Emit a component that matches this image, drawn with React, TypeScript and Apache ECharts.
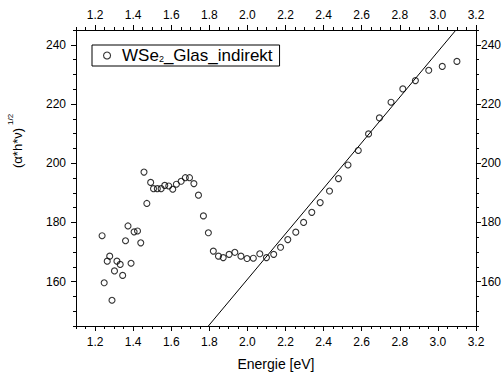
import { useEffect, useRef } from "react";
import * as echarts from "echarts";

// Photon energy (eV) and (α·h·ν)^(1/2) values of the WSe2 glass sample
const energy = [
  1.237, 1.248, 1.264, 1.277, 1.289, 1.302, 1.315, 1.332, 1.345, 1.36,
  1.373, 1.389, 1.405, 1.423, 1.44, 1.457, 1.472, 1.492, 1.507, 1.527,
  1.547, 1.566, 1.587, 1.608, 1.627, 1.652, 1.674, 1.696, 1.719, 1.743,
  1.769, 1.795, 1.821, 1.848, 1.873, 1.904, 1.934, 1.966, 1.998, 2.031,
  2.065, 2.1, 2.138, 2.174, 2.212, 2.254, 2.295, 2.338, 2.382, 2.431,
  2.478, 2.528, 2.582, 2.636, 2.693, 2.754, 2.816, 2.882, 2.952, 3.023,
  3.1,
];
const signal = [
  175.5, 159.6, 166.9, 168.6, 153.7, 163.6, 166.9, 165.8, 162.1, 173.8,
  178.8, 166.2, 176.8, 177.1, 173.1, 197.0, 186.4, 193.5, 191.4, 191.4,
  191.4, 192.5, 192.3, 191.2, 192.9, 193.9, 195.1, 195.1, 193.1, 189.2,
  182.2, 176.5, 170.3, 168.6, 168.1, 169.2, 169.9, 168.6, 167.8, 167.9,
  169.4, 168.1, 169.2, 171.6, 174.2, 176.7, 180.0, 183.4, 186.7, 190.6,
  194.8, 199.4, 204.3, 209.9, 215.3, 220.6, 225.1, 227.9, 231.4, 232.7,
  234.4,
];

// Linear fit of the absorption edge, given by its two ends inside the frame
const fitLine = [
  [1.795, 145],
  [3.095, 245],
];

const xMajorTicks = [1.2, 1.4, 1.6, 1.8, 2.0, 2.2, 2.4, 2.6, 2.8, 3.0, 3.2];
const yMajorTicks = [160, 180, 200, 220, 240];

const X_MIN = 1.1;
const X_MAX = 3.2;
const Y_MIN = 145;
const Y_MAX = 245;

const FONT = "'Liberation Sans', Arial, Helvetica, sans-serif";
const BLACK = "#000";

function minorAxis(position: string, min: number, max: number, interval: number) {
  return {
    type: "value",
    position,
    min,
    max,
    interval,
    axisLine: { show: true, onZero: false, lineStyle: { color: BLACK, width: 1 } },
    axisTick: { show: true, inside: false, length: 3, lineStyle: { color: BLACK, width: 1 } },
    axisLabel: { show: false },
    splitLine: { show: false },
  };
}

function majorAxis(
  position: string,
  min: number,
  max: number,
  ticks: number[],
  digits: number,
  margin: number
) {
  return {
    type: "value",
    position,
    min,
    max,
    axisLine: { show: false, onZero: false },
    axisTick: {
      show: true,
      inside: false,
      length: 5,
      customValues: ticks,
      lineStyle: { color: BLACK, width: 1 },
    },
    axisLabel: {
      show: true,
      customValues: ticks,
      margin,
      color: BLACK,
      fontSize: 12,
      fontFamily: FONT,
      formatter: (v: number) => v.toFixed(digits),
    },
    splitLine: { show: false },
  };
}

export default function App() {
  const ref = useRef<HTMLDivElement>(null);

  useEffect(() => {
    if (!ref.current) return;
    const chart = echarts.init(ref.current, undefined, { renderer: "svg" });

    const bottomMajor: any = majorAxis("bottom", X_MIN, X_MAX, xMajorTicks, 1, 10);
    bottomMajor.name = "Energie [eV]";
    bottomMajor.nameLocation = "middle";
    bottomMajor.nameGap = 31;
    bottomMajor.nameTextStyle = { color: BLACK, fontSize: 14, fontFamily: FONT };

    chart.setOption({
      animation: false,
      backgroundColor: "#fff",
      grid: { left: 76, right: 25, top: 30, bottom: 52, containLabel: false },
      xAxis: [
        minorAxis("bottom", X_MIN, X_MAX, 0.05),
        bottomMajor,
        minorAxis("top", X_MIN, X_MAX, 0.05),
        majorAxis("top", X_MIN, X_MAX, xMajorTicks, 1, 9),
      ],
      yAxis: [
        minorAxis("left", Y_MIN, Y_MAX, 5),
        majorAxis("left", Y_MIN, Y_MAX, yMajorTicks, 0, 10),
        minorAxis("right", Y_MIN, Y_MAX, 5),
        majorAxis("right", Y_MIN, Y_MAX, yMajorTicks, 0, 5),
      ],
      legend: {
        show: true,
        left: 92,
        top: 45,
        orient: "horizontal",
        data: ["WSe2_Glas_indirekt"],
        itemWidth: 20,
        itemHeight: 7,
        padding: [2, 7, 2, 11],
        borderColor: BLACK,
        borderWidth: 1,
        borderRadius: 0,
        backgroundColor: "#fff",
        itemStyle: { color: "rgba(0,0,0,0)", borderColor: BLACK, borderWidth: 1.1 },
        formatter: () => "{n|WSe}{s|2}{n|_Glas_indirekt}",
        textStyle: {
          color: BLACK,
          fontFamily: FONT,
          fontSize: 17,
          rich: {
            n: { fontSize: 17, fontFamily: FONT, color: BLACK, lineHeight: 16 },
            s: {
              fontSize: 9,
              fontFamily: FONT,
              color: BLACK,
              lineHeight: 16,
              verticalAlign: "bottom",
              padding: [7, 0, 0, 0],
            },
          },
        },
      },
      graphic: [
        {
          type: "group",
          x: 17,
          y: 168,
          rotation: Math.PI / 2,
          children: [
            {
              type: "text",
              x: 0,
              y: 0,
              style: {
                text: "(α*h*ν)",
                fontSize: 13,
                fontFamily: FONT,
                fill: BLACK,
                textAlign: "left",
                textVerticalAlign: "middle",
              },
            },
            {
              type: "text",
              x: 43,
              y: -7,
              style: {
                text: "1/2",
                fontSize: 8,
                fontFamily: FONT,
                fill: BLACK,
                textAlign: "left",
                textVerticalAlign: "middle",
              },
            },
          ],
        },
      ],
      series: [
        {
          name: "WSe2_Glas_indirekt",
          type: "scatter",
          xAxisIndex: 0,
          yAxisIndex: 0,
          symbol: "circle",
          symbolSize: 6,
          itemStyle: { color: "rgba(0,0,0,0)", borderColor: BLACK, borderWidth: 1.1 },
          data: energy.map((e, i) => [e, signal[i]]),
          z: 3,
        },
        {
          name: "fit",
          type: "line",
          xAxisIndex: 0,
          yAxisIndex: 0,
          showSymbol: false,
          symbol: "none",
          clip: true,
          lineStyle: { color: BLACK, width: 1 },
          data: fitLine,
          z: 2,
        },
      ],
    });

    return () => chart.dispose();
  }, []);

  return (
    <div
      ref={ref}
      style={{ position: "fixed", left: 0, top: 0, width: 504, height: 378, background: "#fff" }}
    />
  );
}
